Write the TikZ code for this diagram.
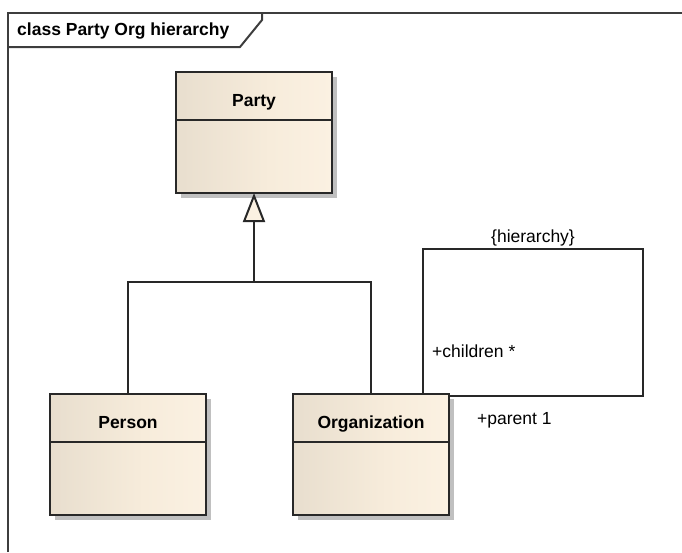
\documentclass[tikz,border=0pt]{standalone}
\usepackage{fontspec}
\setmainfont{Liberation Sans}
\usetikzlibrary{arrows.meta,shadows,calc}
\definecolor{tanL}{RGB}{232,222,206}
\definecolor{tanM}{RGB}{247,236,219}
\definecolor{tanR}{RGB}{251,241,226}
\definecolor{edge}{RGB}{40,40,40}
\definecolor{shade}{RGB}{192,192,192}
% class fill: darker at the left edge, quickly turning light
\pgfdeclarehorizontalshading{classfill}{100bp}{color(0bp)=(tanL); color(25bp)=(tanL); color(55bp)=(tanM); color(75bp)=(tanR); color(100bp)=(tanR)}
\begin{document}
\begin{tikzpicture}[x=1pt,y=-1pt,
  umlfont/.style={font=\fontsize{17.5}{21}\selectfont},
  classbox/.style={draw=edge, line width=2pt, rectangle, inner sep=0pt, outer sep=0pt,
    minimum width=156pt, minimum height=121pt, shading=classfill,
    drop shadow={shadow xshift=5pt, shadow yshift=-5pt, fill=shade, opacity=1}},
  classname/.style={font=\fontsize{17.5}{21}\selectfont\bfseries, anchor=base, inner sep=0pt},
  divider/.style={draw=edge, line width=2pt},
  conn/.style={draw=edge, line width=2pt},
  role/.style={umlfont, anchor=base west, inner sep=0pt},
  framepen/.style={draw=edge!90, line width=2pt}
]
\useasboundingbox (0,0) rectangle (682,552);

% diagram frame with its name tab
\draw[framepen] (8,552) -- (8,13) -- (682,13);
\draw[framepen] (8,47) -- (240,47) -- (262,20) -- (262,13);
\node[classname, anchor=base west] (frametitle) at (17,35) {class Party Org hierarchy};

% classes
\node[classbox] (party) at (254,132.5) {};
\draw[divider] (party.west |- 0,120) -- (party.east |- 0,120);
\node[classname] (partyname) at (254,106) {Party};

\node[classbox] (person) at (128,454.5) {};
\draw[divider] (person.west |- 0,442) -- (person.east |- 0,442);
\node[classname] (personname) at (128,428) {Person};

\node[classbox] (org) at (371,454.5) {};
\draw[divider] (org.west |- 0,442) -- (org.east |- 0,442);
\node[classname] (orgname) at (371,428) {Organization};

% generalization
\coordinate (joint) at (254,282);
\draw[conn] (person.north) -- (person.north |- joint) -- (joint);
\draw[conn] (org.north) -- (org.north |- joint) -- (joint);
\draw[conn, line join=miter, -{Triangle[open, length=29pt, width=22pt, fill=tanR]}] (joint) -- (party.south);

% self association
\coordinate (loopTL) at (423,249);
\coordinate (loopTR) at (643,249);
\coordinate (loopBR) at (643,396);
\draw[conn] (org.north -| loopTL) -- (loopTL) -- (loopTR) -- (loopBR) -- (loopBR -| org.east);

\node[umlfont, anchor=base, inner sep=0pt] (constraint) at (533,242) {\{hierarchy\}};
\node[role] (children) at (432,357) {+children *};
\node[role] (parent) at (477,424) {+parent 1};
\end{tikzpicture}
\end{document}
